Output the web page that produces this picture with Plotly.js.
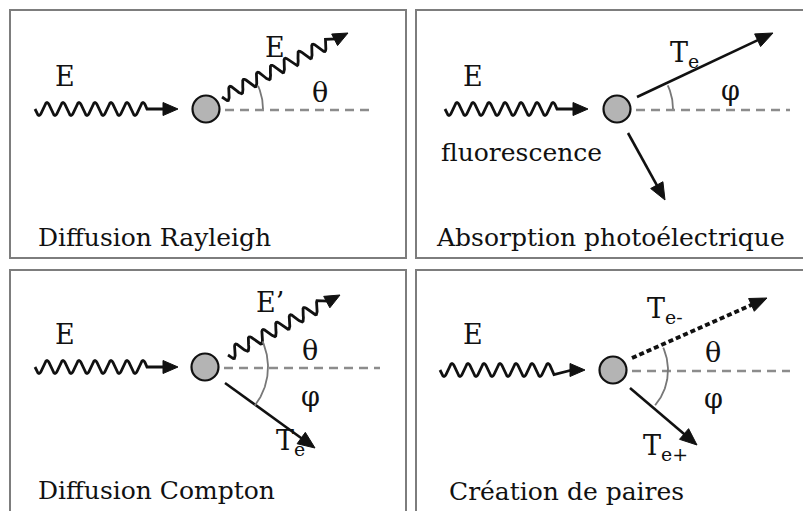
<!DOCTYPE html>
<html>
<head>
<meta charset="utf-8">
<script src="https://cdn.plot.ly/plotly-3.0.1.min.js"></script>
<style>html,body{margin:0;padding:0;background:#fff;}#chart{width:803px;height:511px;}</style>
</head>
<body>
<div id="chart"></div>
<script>
// ---- diagram content ----
const panelTitles = ['Diffusion Rayleigh', 'Absorption photoélectrique', 'Diffusion Compton', 'Création de paires'];
const panelBoxes = [[10, 10, 406, 258], [416, 10, 812, 258], [10, 270, 406, 520], [416, 270, 812, 520]];
const titlePos = [[36, 237], [434, 237], [36, 490], [447, 491]];
const nuclei = [[206, 109], [617, 109], [205, 367], [613, 370]];
const incidentStartX = [35, 445, 35, 440];
const incidentTipX = [178, 588, 178, 585];
const refLineEndX = [375, 790, 380, 790];
// outgoing particles: kind, from, to
const outKind = ['wave', 'line', 'line', 'wave', 'line', 'dotted', 'line'];
const outFrom = [[222, 97], [637, 97], [628, 133], [228, 355], [225, 383], [632, 358], [630, 388]];
const outTo = [[348, 33], [773, 33], [665, 200], [340, 295], [315, 448], [767, 298], [697, 445]];
// angle arcs (degrees, counter-clockwise from the reference line; screen y is down)
const arcCenter = [[206, 109], [617, 109], [205, 367], [613, 370]];
const arcRadius = [57, 56, 63, 55];
const arcFrom = [0, 0, -38, -40];
const arcTo = [24, 25, 24, 24];
// labels
const labelText = ['E', 'E', 'θ', 'E', 'T<sub>e</sub>', 'φ', 'fluorescence',
  'E', 'E’', 'θ', 'φ', 'T<sub>e</sub>',
  'E', 'T<sub>e-</sub>', 'θ', 'φ', 'T<sub>e+</sub>'];
const labelX = [65, 275, 320, 473, 684, 730, 521, 65, 270, 310, 310, 290, 473, 665, 713, 713, 665];
const labelY = [76, 47, 92, 76, 54, 90, 152, 334, 302, 350, 396, 442, 334, 310, 352, 398, 447];

// ---- drawing helpers ----
const SERIF = 'DejaVu Serif, Liberation Serif, serif';
const traces = [];
const shapes = [];
const annotations = [];
const BLACK = '#111';
const GREY = '#8c8c8c';

function arrowHead(tip, ux, uy, len, half) {
  const bx = tip[0] - ux * len, by = tip[1] - uy * len;
  const nx = -uy, ny = ux;
  traces.push({
    x: [tip[0], bx + nx * half, bx - nx * half, tip[0]],
    y: [tip[1], by + ny * half, by - ny * half, tip[1]],
    mode: 'lines', fill: 'toself', fillcolor: BLACK,
    line: {color: BLACK, width: 1}, hoverinfo: 'skip', showlegend: false
  });
  return [bx + ux * 2, by + uy * 2];
}

function unit(a, b) {
  const dx = b[0] - a[0], dy = b[1] - a[1];
  const L = Math.hypot(dx, dy);
  return [dx / L, dy / L, L];
}

function wavy(from, to, amp, lambda, straight, headLen) {
  const [ux, uy, L] = unit(from, to);
  const nx = -uy, ny = ux;
  const waveLen = Math.max(0, L - straight - headLen);
  const xs = [], ys = [];
  const n = Math.round(waveLen);
  for (let i = 0; i <= n; i++) {
    const t = waveLen * i / n;
    const s = Math.sin(2 * Math.PI * t / lambda);
    xs.push(from[0] + ux * t + nx * amp * s);
    ys.push(from[1] + uy * t + ny * amp * s);
  }
  const end = arrowHead(to, ux, uy, headLen, 6.5);
  xs.push(end[0]); ys.push(end[1]);
  traces.push({x: xs, y: ys, mode: 'lines', line: {color: BLACK, width: 2.8},
    hoverinfo: 'skip', showlegend: false});
}

function straightArrow(from, to, dash, width) {
  const [ux, uy] = unit(from, to);
  const end = arrowHead(to, ux, uy, 17, 7);
  traces.push({x: [from[0], end[0]], y: [from[1], end[1]], mode: 'lines',
    line: {color: BLACK, width: width, dash: dash}, hoverinfo: 'skip', showlegend: false});
}

// panels
panelBoxes.forEach((b, i) => {
  shapes.push({type: 'rect', xref: 'x', yref: 'y', x0: b[0], y0: b[1], x1: b[2], y1: b[3],
    line: {color: '#7d7d7d', width: 2}, fillcolor: 'rgba(0,0,0,0)', layer: 'below'});
  annotations.push({x: titlePos[i][0], y: titlePos[i][1], xref: 'x', yref: 'y', text: panelTitles[i],
    showarrow: false, xanchor: 'left', yanchor: 'middle',
    font: {family: SERIF, size: 25, color: BLACK}});
});

// reference dashed lines, incident photons, nuclei
nuclei.forEach((c, i) => {
  traces.push({x: [c[0] + 19, refLineEndX[i]], y: [c[1] + 1, c[1] + 1], mode: 'lines',
    line: {color: GREY, width: 2.4, dash: '9px,6px'}, hoverinfo: 'skip', showlegend: false});
  wavy([incidentStartX[i], c[1]], [incidentTipX[i], c[1]], 6.5, 16, 16, 15);
  shapes.push({type: 'circle', xref: 'x', yref: 'y', x0: c[0] - 13.5, x1: c[0] + 13.5,
    y0: c[1] - 13.5, y1: c[1] + 13.5, fillcolor: '#b4b4b4', line: {color: BLACK, width: 2.2}, layer: 'above'});
});

// outgoing particles
outKind.forEach((k, i) => {
  if (k === 'wave') wavy(outFrom[i], outTo[i], 6, 15.5, 8, 15);
  else if (k === 'dotted') straightArrow(outFrom[i], outTo[i], '5px,3px', 4);
  else straightArrow(outFrom[i], outTo[i], 'solid', 2.6);
});

// angle arcs
arcCenter.forEach((c, i) => {
  const xs = [], ys = [];
  for (let a = arcFrom[i]; a <= arcTo[i]; a += 1) {
    const r = a * Math.PI / 180;
    xs.push(c[0] + arcRadius[i] * Math.cos(r));
    ys.push(c[1] - arcRadius[i] * Math.sin(r));
  }
  traces.push({x: xs, y: ys, mode: 'lines', line: {color: '#777', width: 1.8},
    hoverinfo: 'skip', showlegend: false});
});

// labels
labelText.forEach((t, i) => {
  annotations.push({x: labelX[i], y: labelY[i], xref: 'x', yref: 'y', text: t, showarrow: false,
    xanchor: 'center', yanchor: 'middle',
    font: {family: SERIF, size: t === 'fluorescence' ? 25 : 27, color: BLACK}});
});

const layout = {
  width: 803, height: 511,
  margin: {l: 0, r: 0, t: 0, b: 0, pad: 0},
  paper_bgcolor: '#fff', plot_bgcolor: '#fff',
  font: {family: SERIF},
  xaxis: {range: [0, 803], visible: false, fixedrange: true},
  yaxis: {range: [511, 0], visible: false, fixedrange: true},
  shapes: shapes, annotations: annotations, showlegend: false
};

Plotly.newPlot('chart', traces, layout, {staticPlot: true, displayModeBar: false});
</script>
</body>
</html>
